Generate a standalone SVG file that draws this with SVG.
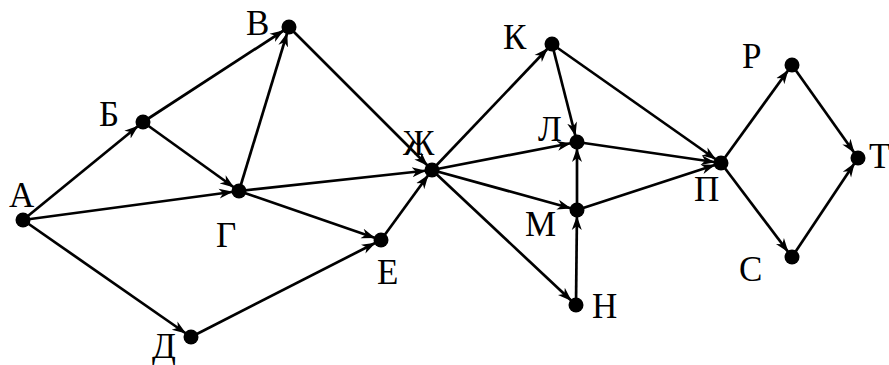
<svg xmlns="http://www.w3.org/2000/svg" width="889" height="365" viewBox="0 0 889 365">
<style>
.e{stroke:#000;stroke-width:2.7;fill:none;marker-end:url(#ah)}
.n{fill:#000}
.l{font-family:"Liberation Serif","Times New Roman",serif;font-size:35px;fill:#000}
</style>
<defs>
<marker id="ah" markerUnits="userSpaceOnUse" markerWidth="24" markerHeight="12" viewBox="0 0 24 12" refX="20" refY="6" orient="auto">
<path d="M0,1 L14,6 L0,11 L4,6 Z" fill="#000"/>
</marker>
</defs>
<rect width="889" height="365" fill="#fff"/>
<g id="connectors">
<line class="e" x1="23" y1="220" x2="143" y2="122"/>
<line class="e" x1="23" y1="220" x2="239" y2="191"/>
<line class="e" x1="23" y1="220" x2="191" y2="337"/>
<line class="e" x1="143" y1="122" x2="289" y2="27"/>
<line class="e" x1="143" y1="122" x2="239" y2="191"/>
<line class="e" x1="239" y1="191" x2="289" y2="27"/>
<line class="e" x1="239" y1="191" x2="432" y2="170"/>
<line class="e" x1="239" y1="191" x2="381" y2="240"/>
<line class="e" x1="191" y1="337" x2="381" y2="240"/>
<line class="e" x1="381" y1="240" x2="432" y2="170"/>
<line class="e" x1="289" y1="27" x2="432" y2="170"/>
<line class="e" x1="432" y1="170" x2="552" y2="44"/>
<line class="e" x1="432" y1="170" x2="577" y2="142"/>
<line class="e" x1="432" y1="170" x2="577" y2="210"/>
<line class="e" x1="432" y1="170" x2="576" y2="305"/>
<line class="e" x1="552" y1="44" x2="577" y2="142"/>
<line class="e" x1="552" y1="44" x2="721" y2="163"/>
<line class="e" x1="577" y1="142" x2="721" y2="163"/>
<line class="e" x1="577" y1="210" x2="577" y2="142"/>
<line class="e" x1="577" y1="210" x2="721" y2="163"/>
<line class="e" x1="576" y1="305" x2="577" y2="210"/>
<line class="e" x1="721" y1="163" x2="792" y2="65"/>
<line class="e" x1="721" y1="163" x2="792" y2="257"/>
<line class="e" x1="792" y1="65" x2="858" y2="158"/>
<line class="e" x1="792" y1="257" x2="858" y2="158"/>
</g>
<g id="node-A"><circle class="n" cx="23" cy="220" r="7.5"/><text class="l" x="9" y="207">А</text></g>
<g id="node-B"><circle class="n" cx="143" cy="122" r="7.5"/><text class="l" x="99" y="126">Б</text></g>
<g id="node-V"><circle class="n" cx="289" cy="27" r="7.5"/><text class="l" x="246" y="35">В</text></g>
<g id="node-G"><circle class="n" cx="239" cy="191" r="7.5"/><text class="l" x="216" y="247">Г</text></g>
<g id="node-E"><circle class="n" cx="381" cy="240" r="7.5"/><text class="l" x="377" y="284">Е</text></g>
<g id="node-D"><circle class="n" cx="191" cy="337" r="7.5"/><text class="l" x="152" y="358">Д</text></g>
<g id="node-Zh"><circle class="n" cx="432" cy="170" r="7.5"/><text class="l" x="403" y="155">Ж</text></g>
<g id="node-K"><circle class="n" cx="552" cy="44" r="7.5"/><text class="l" x="503" y="49">К</text></g>
<g id="node-L"><circle class="n" cx="577" cy="142" r="7.5"/><text class="l" x="538" y="141">Л</text></g>
<g id="node-M"><circle class="n" cx="577" cy="210" r="7.5"/><text class="l" x="525" y="236">М</text></g>
<g id="node-N"><circle class="n" cx="576" cy="305" r="7.5"/><text class="l" x="592" y="318">Н</text></g>
<g id="node-P"><circle class="n" cx="721" cy="163" r="7.5"/><text class="l" x="694" y="201">П</text></g>
<g id="node-R"><circle class="n" cx="792" cy="65" r="7.5"/><text class="l" x="742" y="68">Р</text></g>
<g id="node-T"><circle class="n" cx="858" cy="158" r="7.5"/><text class="l" x="869" y="168">Т</text></g>
<g id="node-S"><circle class="n" cx="792" cy="257" r="7.5"/><text class="l" x="739" y="281">С</text></g>
</svg>
